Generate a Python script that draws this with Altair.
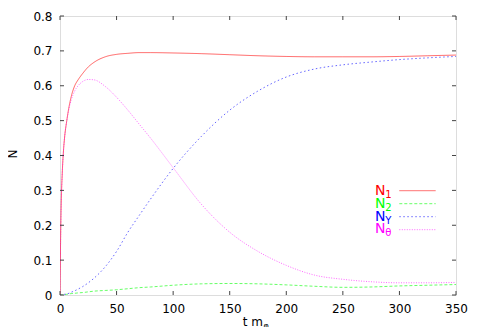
import altair as alt
import pandas as pd

# ---- data ----
t = [0, 0.5, 1, 2, 3, 4, 6, 8, 10, 13, 16, 20, 25, 30, 40, 50, 60, 70, 80,
     100, 125, 150, 175, 200, 225, 250, 275, 300, 325, 350]
n1 = [0, 0.15, 0.25, 0.35, 0.41, 0.45, 0.50, 0.54, 0.57, 0.60, 0.617, 0.635,
      0.654, 0.667, 0.683, 0.690, 0.693, 0.695, 0.695, 0.694, 0.692, 0.689,
      0.686, 0.684, 0.683, 0.683, 0.683, 0.684, 0.686, 0.688]
n2 = [0, 0, 0, 0.0005, 0.001, 0.0015, 0.002, 0.003, 0.004, 0.005, 0.006, 0.007,
      0.009, 0.011, 0.013, 0.015, 0.018, 0.021, 0.023, 0.028, 0.032, 0.033,
      0.032, 0.029, 0.025, 0.022, 0.023, 0.026, 0.028, 0.030]
ny = [0, 0, 0, 0.0005, 0.001, 0.002, 0.003, 0.005, 0.008, 0.012, 0.017, 0.024,
      0.035, 0.048, 0.081, 0.125, 0.18, 0.228, 0.275, 0.363, 0.455, 0.53,
      0.585, 0.625, 0.648, 0.66, 0.668, 0.675, 0.68, 0.684]
ntheta = [0, 0.15, 0.25, 0.35, 0.41, 0.45, 0.50, 0.535, 0.56, 0.585, 0.60,
          0.612, 0.618, 0.617, 0.598, 0.567, 0.53, 0.49, 0.45, 0.365, 0.26,
          0.18, 0.125, 0.085, 0.057, 0.045, 0.038, 0.035, 0.035, 0.036]

series_names = ["N1", "N2", "NY", "Ntheta"]
series_values = [n1, n2, ny, ntheta]
legend_subs = ["1", "2", "Y", "θ"]
line_colors = ["#ff0000", "#00ff00", "#0000ff", "#ff00ff"]
text_colors = ["#ff0000", "#00ff00", "#0000ff", "#ff00ff"]
dashes = [[1, 0], [3, 2], [1.5, 2.5], [1, 1.5]]

x_ticks = [0, 50, 100, 150, 200, 250, 300, 350]
y_ticks = [0, 0.1, 0.2, 0.3, 0.4, 0.5, 0.6, 0.7, 0.8]

W, H = 396, 279
FONT = "DejaVu Sans"
FRAME = "#444444"

rows = []
for name, vals in zip(series_names, series_values):
    for tt, v in zip(t, vals):
        rows.append({"t": tt, "N": v, "s": name})
df = pd.DataFrame(rows)

xs = alt.Scale(domain=[0, 350], nice=False, zero=False)
ys = alt.Scale(domain=[0, 0.8], nice=False)

x_axis = alt.Axis(values=x_ticks, format="d", title=None, ticks=False, domain=False,
                  grid=False, labelPadding=8, labelFont=FONT, labelFontSize=12,
                  labelColor="#000000", labelOverlap=False, labelFlush=False)
y_axis = alt.Axis(values=y_ticks, format="~g", title=None, ticks=False, domain=False,
                  grid=False, labelPadding=8, labelFont=FONT, labelFontSize=12,
                  labelColor="#000000", labelOverlap=False, labelFlush=False)

lines = alt.Chart(df).mark_line(strokeWidth=1, opacity=0.6, interpolate="monotone", clip=True).encode(
    x=alt.X("t:Q", scale=xs, axis=x_axis),
    y=alt.Y("N:Q", scale=ys, axis=y_axis),
    color=alt.Color("s:N", scale=alt.Scale(domain=series_names, range=line_colors), legend=None),
    strokeDash=alt.StrokeDash("s:N", scale=alt.Scale(domain=series_names, range=dashes), legend=None),
    detail="s:N",
)

ydf = pd.DataFrame({"v": y_ticks})
xdf = pd.DataFrame({"v": x_ticks})
tick_style = dict(color=FRAME, strokeWidth=1)
left_ticks = alt.Chart(ydf).mark_rule(**tick_style).encode(
    y=alt.Y("v:Q", scale=ys, axis=y_axis), x=alt.value(0), x2=alt.value(4))
right_ticks = alt.Chart(ydf).mark_rule(**tick_style).encode(
    y=alt.Y("v:Q", scale=ys, axis=y_axis), x=alt.value(W - 4), x2=alt.value(W))
bottom_ticks = alt.Chart(xdf).mark_rule(**tick_style).encode(
    x=alt.X("v:Q", scale=xs, axis=x_axis), y=alt.value(H), y2=alt.value(H - 4))
top_ticks = alt.Chart(xdf).mark_rule(**tick_style).encode(
    x=alt.X("v:Q", scale=xs, axis=x_axis), y=alt.value(0), y2=alt.value(4))

one = pd.DataFrame({"a": [0]})

xtitle = alt.Chart(one).mark_text(text="t m", font=FONT, fontSize=12, align="right",
                                  baseline="alphabetic", color="#000000").encode(
    x=alt.value(203), y=alt.value(310))
xtitle_sub = alt.Chart(one).mark_text(text="φ", font=FONT, fontSize=8, align="left",
                                      baseline="alphabetic", color="#000000").encode(
    x=alt.value(203.5), y=alt.value(312.5))
ytitle = alt.Chart(one).mark_text(text="N", font=FONT, fontSize=12, angle=270, align="center",
                                  baseline="middle", color="#000000").encode(
    x=alt.value(-47), y=alt.value(H / 2 - 1.5))

legend_layers = []
for i in range(4):
    base_y = 179.3 + 12.6 * i
    line_y = 174.7 + 13.0 * i
    legend_layers.append(alt.Chart(one).mark_text(
        text="N", font=FONT, fontSize=14, align="right", baseline="alphabetic",
        color=text_colors[i]).encode(x=alt.value(325.5), y=alt.value(base_y)))
    legend_layers.append(alt.Chart(one).mark_text(
        text=legend_subs[i], font=FONT, fontSize=10, align="left", baseline="alphabetic",
        color=text_colors[i]).encode(x=alt.value(325.3), y=alt.value(base_y + 3)))
    legend_layers.append(alt.Chart(one).mark_rule(
        color=line_colors[i], strokeWidth=1, opacity=0.6, strokeDash=dashes[i]).encode(
        x=alt.value(339.3), x2=alt.value(375.7), y=alt.value(line_y)))

chart = alt.layer(
    lines, left_ticks, right_ticks, bottom_ticks, top_ticks,
    xtitle, xtitle_sub, ytitle, *legend_layers
).properties(
    width=W, height=H,
    autosize=alt.AutoSizeParams(type="none"),
    padding={"left": 52, "top": 8, "right": 15, "bottom": 32},
).configure_view(
    stroke=FRAME, strokeWidth=1
).configure(background="#ffffff")

chart.save("out.html", embed_options={"renderer": "svg", "actions": False})
